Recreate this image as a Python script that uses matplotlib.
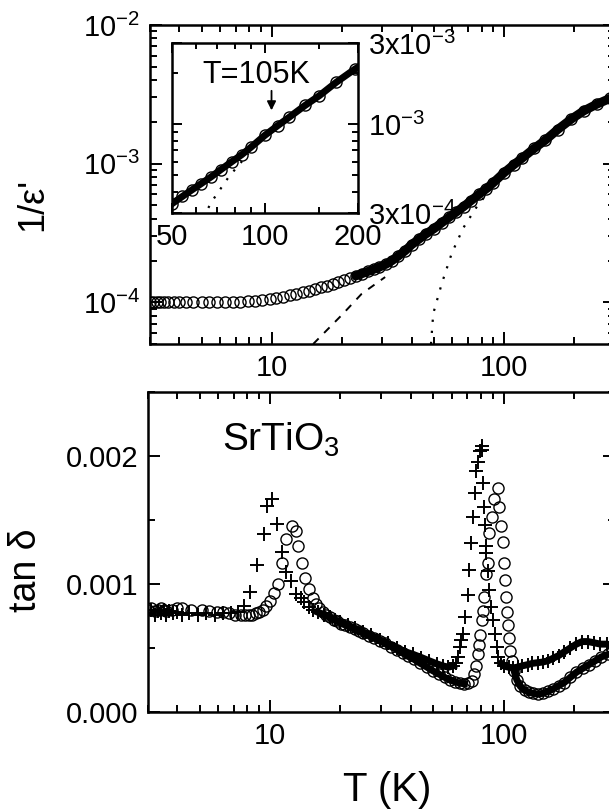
import numpy as np
import matplotlib
matplotlib.use('Agg')
import matplotlib.pyplot as plt
from matplotlib.ticker import (FixedLocator, FixedFormatter, NullFormatter,
                               FormatStrFormatter, LogLocator)

plt.rcParams['font.family'] = ['Liberation Sans', 'DejaVu Sans']
plt.rcParams['mathtext.fontset'] = 'custom'
plt.rcParams['mathtext.rm'] = 'Liberation Sans'
plt.rcParams['mathtext.it'] = 'Liberation Sans:italic'
plt.rcParams['mathtext.default'] = 'regular'

# 1/eps' vs T (upper panel, also used in the inset)
T_eps = np.array([
    3.0, 3.1, 3.2, 3.3, 3.45, 3.6, 3.8, 4.0, 4.3, 4.6,
    5.0, 5.4, 5.8, 6.3, 6.8, 7.3, 7.9, 8.5, 9.1, 9.8,
    10.5, 11.2, 12.0, 12.8, 13.6, 14.5, 15.4, 16.3, 17.3, 18.3,
    19.4, 20.5, 21.7, 23.0, 24.5, 26.0, 27.5, 29.0, 31.0, 33.0,
    35.0, 37.5, 40.0, 43.0, 46.0, 50.0, 54.0, 58.0, 62.0, 67.0,
    72.0, 78.0, 84.0, 90.0, 100, 110, 120, 135, 150, 170,
    195, 220, 250, 285, 310])
inv_eps = 1e-4 * np.array([
    1.00, 1.00, 1.00, 1.00, 1.00, 1.00, 1.00, 1.00, 1.00, 1.00,
    1.00, 1.01, 1.01, 1.01, 1.01, 1.01, 1.02, 1.03, 1.04, 1.06,
    1.08, 1.10, 1.12, 1.15, 1.18, 1.21, 1.24, 1.28, 1.32, 1.36,
    1.40, 1.45, 1.50, 1.55, 1.61, 1.67, 1.73, 1.79, 1.88, 2.00,
    2.15, 2.35, 2.60, 2.85, 3.10, 3.40, 3.75, 4.10, 4.45, 4.90,
    5.40, 6.00, 6.60, 7.30, 8.60, 9.80, 11.0, 12.9, 14.7, 17.6,
    21.0, 24.0, 26.8, 29.5, 31.0])

# fit curves
T_dash = [15.1, 20.2, 24.4, 30.8]
eps_dash = [5.0e-5, 8.2e-5, 1.15e-4, 1.52e-4]
T_dot = [48.5, 49.6, 54.0, 59.6, 66.8, 76.4, 88.4]
eps_dot = [5.0e-5, 8.3e-5, 1.37e-4, 2.26e-4, 3.44e-4, 4.9e-4, 6.7e-4]

# tan delta, crosses
T_plus = np.array([
    3.0, 3.1, 3.2, 3.3, 3.4, 3.5, 3.6, 3.7, 3.85, 4.0,
    4.2, 4.5, 4.9, 5.3, 5.8, 6.3, 6.8, 7.3, 7.7, 8.2,
    8.8, 9.4, 9.7, 10.2, 10.75, 11.3, 11.7, 12.3, 12.9, 13.5,
    14.0, 14.7, 15.3, 16.0, 17.0, 18.0, 19.0, 20.0, 21.5, 23.0,
    25.0, 27.0, 29.5, 32.0, 35.0, 38.0, 41.0, 44.5, 48.0, 52.0,
    55.0, 58.0, 61.0, 62.3, 63.7, 64.8, 66.0, 67.0, 68.6, 70.3,
    71.4, 72.5, 73.7, 75.5, 76.5, 78.0, 79.5, 80.5, 81.0, 81.8,
    82.6, 83.2, 84.0, 84.5, 85.5, 87.0, 88.6, 90.0, 91.7, 93.3,
    94.5, 97.5, 100, 105, 110, 115, 120, 127, 133, 140,
    147, 155, 163, 172, 182, 193, 205, 217, 230, 245,
    260, 276, 300])
tan_plus = 1e-3 * np.array([
    0.77, 0.80, 0.76, 0.79, 0.77, 0.80, 0.76, 0.79, 0.77, 0.78,
    0.76, 0.77, 0.76, 0.77, 0.76, 0.77, 0.77, 0.78, 0.83, 0.94,
    1.15, 1.39, 1.61, 1.66, 1.47, 1.25, 1.09, 1.02, 0.92, 0.89,
    0.86, 0.82, 0.80, 0.78, 0.76, 0.74, 0.72, 0.70, 0.68, 0.655,
    0.625, 0.60, 0.565, 0.535, 0.50, 0.47, 0.45, 0.425, 0.40, 0.375,
    0.36, 0.35, 0.36, 0.38, 0.43, 0.51, 0.56, 0.61, 0.74, 0.91,
    1.11, 1.32, 1.52, 1.71, 1.88, 1.95, 2.04, 2.08, 2.05, 1.79,
    1.60, 1.46, 1.30, 1.24, 1.10, 0.95, 0.82, 0.72, 0.61, 0.51,
    0.43, 0.38, 0.36, 0.35, 0.345, 0.35, 0.36, 0.37, 0.38, 0.385,
    0.39, 0.40, 0.42, 0.44, 0.47, 0.50, 0.53, 0.55, 0.55, 0.54,
    0.53, 0.53, 0.52])

# tan delta, circles
T_circ = np.array([
    3.0, 3.1, 3.2, 3.3, 3.4, 3.5, 3.6, 3.8, 4.0, 4.2,
    4.6, 5.1, 5.5, 5.9, 6.3, 6.7, 7.1, 7.5, 7.8, 8.1,
    8.4, 8.7, 9.0, 9.3, 9.6, 10.0, 10.4, 10.8, 11.3, 11.75,
    12.4, 12.9, 13.2, 13.7, 14.1, 14.7, 15.2, 15.7, 16.2, 16.8,
    17.4, 18.0, 18.7, 19.4, 20.2, 21.0, 22.0, 23.0, 24.0, 25.0,
    26.5, 28.0, 29.5, 31.0, 33.0, 35.0, 37.0, 39.0, 41.5, 44.0,
    47.0, 50.0, 53.0, 56.0, 59.0, 62.0, 65.0, 68.0, 70.5, 73.0,
    75.0, 76.5, 77.5, 78.5, 79.5, 80.5, 81.5, 82.5, 84.0, 85.5,
    87.0, 89.0, 91.0, 94.4, 96.0, 97.5, 99.0, 100, 101, 102,
    103, 104, 105.5, 107, 109, 111, 114, 118, 123, 128,
    134, 140, 147, 155, 163, 172, 182, 193, 205, 218,
    232, 247, 262, 280, 300])
tan_circ = 1e-3 * np.array([
    0.80, 0.81, 0.79, 0.80, 0.81, 0.80, 0.79, 0.80, 0.81, 0.81,
    0.80, 0.80, 0.79, 0.78, 0.78, 0.77, 0.76, 0.76, 0.755, 0.755,
    0.76, 0.77, 0.78, 0.80, 0.83, 0.87, 0.93, 1.00, 1.16, 1.35,
    1.45, 1.41, 1.30, 1.16, 1.05, 0.96, 0.89, 0.84, 0.81, 0.78,
    0.755, 0.74, 0.72, 0.71, 0.69, 0.68, 0.66, 0.645, 0.63, 0.615,
    0.595, 0.575, 0.555, 0.535, 0.51, 0.485, 0.46, 0.435, 0.41, 0.38,
    0.35, 0.32, 0.295, 0.27, 0.25, 0.235, 0.225, 0.22, 0.225, 0.24,
    0.30, 0.36, 0.45, 0.52, 0.60, 0.72, 0.79, 0.90, 1.08, 1.16,
    1.40, 1.52, 1.66, 1.75, 1.60, 1.45, 1.33, 1.16, 1.03, 0.90,
    0.78, 0.68, 0.58, 0.48, 0.40, 0.32, 0.25, 0.20, 0.17, 0.155,
    0.145, 0.14, 0.145, 0.16, 0.18, 0.205, 0.23, 0.27, 0.31, 0.34,
    0.37, 0.40, 0.43, 0.45, 0.46])

assert len(T_eps) == len(inv_eps)
assert len(T_plus) == len(tan_plus)
assert len(T_circ) == len(tan_circ)


def style_axes(ax, size=21):
    ax.tick_params(which='both', direction='in', top=True, right=True,
                   width=1.4, labelsize=size, pad=7)
    ax.tick_params(which='major', length=8.5)
    ax.tick_params(which='minor', length=5)
    for s in ax.spines.values():
        s.set_linewidth(1.8)


def log_T_axis(ax):
    ax.set_xscale('log')
    ax.set_xlim(3, 300)
    ax.xaxis.set_major_locator(FixedLocator([10, 100]))
    ax.xaxis.set_major_formatter(FormatStrFormatter('%d'))
    ax.xaxis.set_minor_locator(LogLocator(subs=np.arange(2, 10)))
    ax.xaxis.set_minor_formatter(NullFormatter())


fig = plt.figure(figsize=(6.09, 8.11), dpi=100)

# ---- upper panel: 1/eps'
ax1 = fig.add_axes([0.2463, 0.5758, 0.7635, 0.3934])
log_T_axis(ax1)
ax1.set_yscale('log')
ax1.set_ylim(5e-5, 1e-2)
ax1.yaxis.set_minor_formatter(NullFormatter())
style_axes(ax1)

band = T_eps >= 22
ax1.plot(T_eps[band], inv_eps[band], '-', color='black', lw=6.5,
         solid_capstyle='round')
ax1.plot(T_eps, inv_eps, 'o', mfc='none', mec='black', ms=8, mew=1.0)
ax1.plot(T_dash, eps_dash, color='black', lw=1.4, ls=(0, (4, 4)))
ax1.plot(T_dot, eps_dot, color='black', lw=1.6, ls=(0, (1, 4)))
ax1.set_ylabel("1/ε'", fontsize=26)
ax1.yaxis.set_label_coords(-0.215, 0.436)

# inset: zoom on 50-200 K
axin = fig.add_axes([0.2824, 0.7374, 0.3054, 0.2096])
axin.set_xscale('log')
axin.set_yscale('log')
axin.set_xlim(50, 200)
axin.set_ylim(3e-4, 3e-3)
axin.xaxis.set_major_locator(FixedLocator([50, 100, 200]))
axin.xaxis.set_major_formatter(FixedFormatter(['50', '100', '200']))
axin.xaxis.set_minor_locator(FixedLocator([60, 70, 80, 90, 150]))
axin.xaxis.set_minor_formatter(NullFormatter())
axin.yaxis.set_major_locator(FixedLocator([3e-4, 1e-3, 3e-3]))
axin.yaxis.set_major_formatter(FixedFormatter(
    [r'3x10$^{-4}$', r'10$^{-3}$', r'3x10$^{-3}$']))
axin.yaxis.set_minor_locator(FixedLocator(
    [4e-4, 5e-4, 6e-4, 7e-4, 8e-4, 9e-4, 2e-3]))
axin.yaxis.set_minor_formatter(NullFormatter())
style_axes(axin)
axin.tick_params(axis='y', which='both', labelleft=False, labelright=True)
axin.tick_params(which='major', length=7)
axin.tick_params(which='minor', length=4.5)

axin.plot(T_eps, inv_eps, '-', color='black', lw=5)
axin.plot(T_eps, inv_eps, 'o', mfc='none', mec='black', ms=8, mew=1.0)
axin.plot(T_dot, eps_dot, color='black', lw=1.6, ls=(0, (1, 4)))
axin.text(94, 1.75e-3, 'T=105K', fontsize=22, ha='center', va='baseline')
axin.annotate('', xy=(105, 1.16e-3), xytext=(105, 1.63e-3),
              arrowprops=dict(arrowstyle='-|>', color='black', lw=1.3,
                              mutation_scale=13))

# ---- lower panel: tan delta
ax2 = fig.add_axes([0.243, 0.1221, 0.7668, 0.3946])
log_T_axis(ax2)
ax2.set_ylim(0, 0.0025)
ax2.yaxis.set_major_locator(FixedLocator([0, 0.001, 0.002]))
ax2.yaxis.set_major_formatter(FormatStrFormatter('%.3f'))
ax2.yaxis.set_minor_locator(FixedLocator([0.0005, 0.0015, 0.0025]))
style_axes(ax2)

for lo, hi in [(16, 62), (97, 310)]:
    m = (T_plus >= lo) & (T_plus <= hi)
    ax2.plot(T_plus[m], tan_plus[m], '-', color='black', lw=5)
for lo, hi in [(17, 70), (111, 310)]:
    m = (T_circ >= lo) & (T_circ <= hi)
    ax2.plot(T_circ[m], tan_circ[m], '-', color='black', lw=5)
ax2.plot(T_plus, tan_plus, '+', color='black', ms=10, mew=1.4)
ax2.plot(T_circ, tan_circ, 'o', mfc='none', mec='black', ms=8, mew=1.0)

ax2.text(6.2, 2.04e-3, 'SrTiO$_3$', fontsize=28, ha='left', va='baseline')
ax2.set_ylabel('tan δ', fontsize=27)
ax2.yaxis.set_label_coords(-0.222, 0.444)
ax2.set_xlabel('T (K)', fontsize=29)
ax2.xaxis.set_label_coords(0.512, -0.185)

fig.savefig('out.png', dpi=100)
